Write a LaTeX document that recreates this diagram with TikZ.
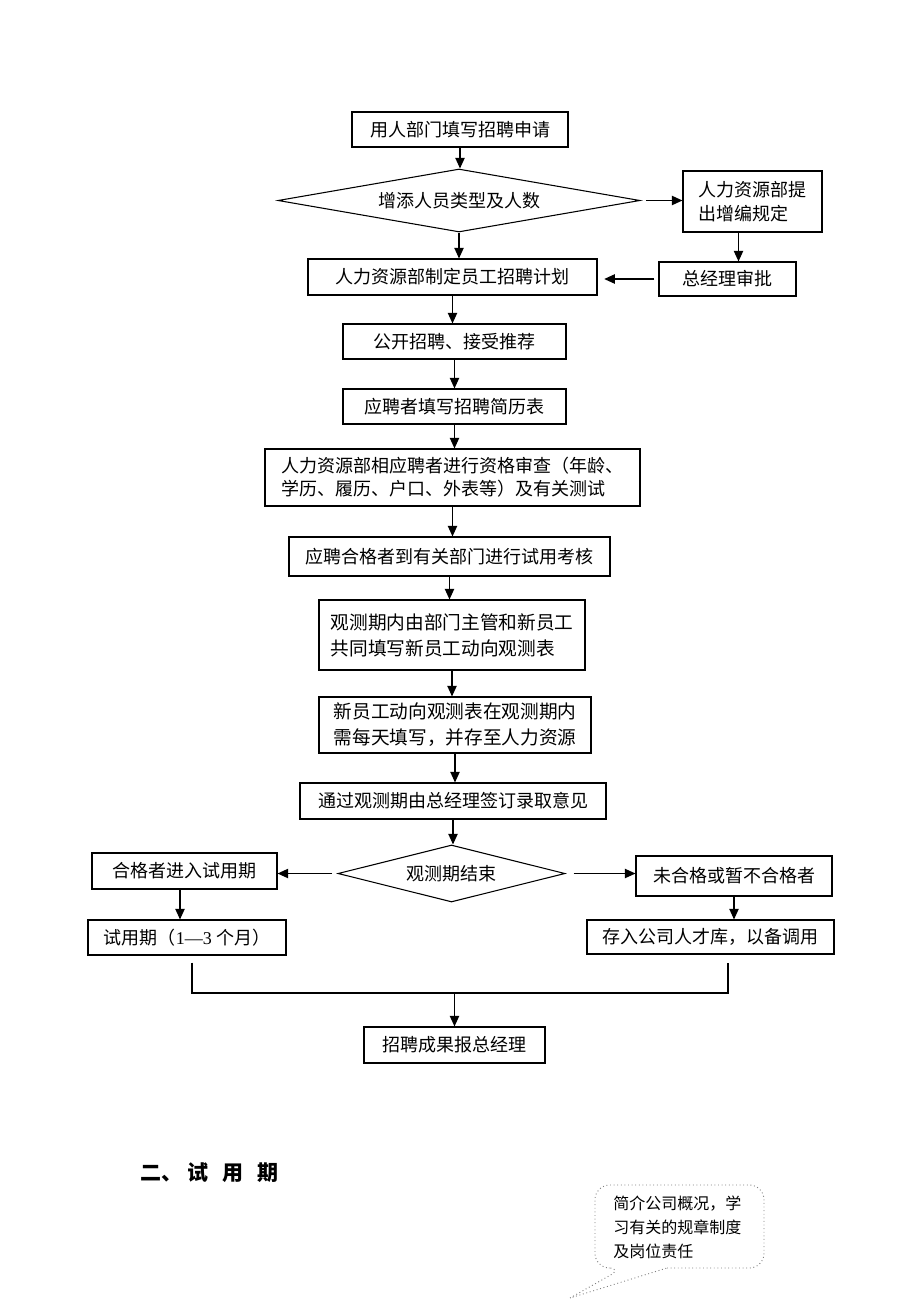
\documentclass[tikz,border=0pt]{standalone}
\usepackage{fontspec}
\setmainfont{Noto Sans CJK SC}
\newfontfamily\latserif{Liberation Serif}
\usetikzlibrary{arrows.meta,shapes.geometric,calc}
\begin{document}
\begin{tikzpicture}[x=0.75pt,y=-0.75pt,
  box/.style={draw, line width=0.8pt, inner sep=0pt, font=\fontsize{13.5}{17}\selectfont},
  dia/.style={draw, diamond, line width=0.8pt, inner sep=0pt, font=\fontsize{13.5}{17}\selectfont},
  arr/.style={-{Triangle[width=7pt,length=8pt]}, line width=1pt},
  ln/.style={line width=0.8pt}]
\useasboundingbox (0,0) rectangle (920,1302);

\node[box, minimum width=162pt, minimum height=26.25pt] (n1) at (460,129.5) {用人部门填写招聘申请};
\node[dia, minimum width=271.5pt, minimum height=47.25pt, aspect=5.7] (d1) at (459,200.5) {增添人员类型及人数};
\node[box, minimum width=104.25pt, minimum height=45.75pt, align=left, font=\fontsize{13.5}{18}\selectfont] (n3) at (752.5,201.5) {人力资源部提\\出增编规定};
\node[box, minimum width=102.75pt, minimum height=25.5pt] (n4) at (727.5,279) {总经理审批};
\node[box, minimum width=216.75pt, minimum height=27pt] (n5) at (452.5,277) {人力资源部制定员工招聘计划};
\node[box, minimum width=167.25pt, minimum height=26.25pt] (n6) at (454.5,341.5) {公开招聘、接受推荐};
\node[box, minimum width=167.25pt, minimum height=26.25pt] (n7) at (454.5,406.5) {应聘者填写招聘简历表};
\node[box, minimum width=281.25pt, minimum height=42.75pt, align=left, font=\fontsize{13.5}{17.25}\selectfont] (n8) at (452.5,477.5) {人力资源部相应聘者进行资格审查（年龄、\\学历、履历、户口、外表等）及有关测试};
\node[box, minimum width=240.75pt, minimum height=29.25pt] (n9) at (449.5,556.5) {应聘合格者到有关部门进行试用考核};
\node[box, minimum width=199.5pt, minimum height=52.5pt, align=left, font=\fontsize{14}{19.5}\selectfont] (n10) at (452,635) {观测期内由部门主管和新员工\\共同填写新员工动向观测表};
\node[box, minimum width=204pt, minimum height=42pt, align=left, font=\fontsize{14}{19.5}\selectfont] (n11) at (455,725) {新员工动向观测表在观测期内\\需每天填写，并存至人力资源};
\node[box, minimum width=229.5pt, minimum height=27pt] (n12) at (453,801) {通过观测期由总经理签订录取意见};
\node[dia, minimum width=170.25pt, minimum height=42.75pt, aspect=4] (d2) at (451.5,873.5) {观测期结束};
\node[box, minimum width=138.75pt, minimum height=27pt] (n14) at (184.5,871) {合格者进入试用期};
\node[box, minimum width=147pt, minimum height=30pt] (n15) at (734,876) {未合格或暂不合格者};
\node[box, minimum width=148.5pt, minimum height=26.25pt] (n16) at (187,937.5) {试用期（{\latserif 1—3} 个月）};
\node[box, minimum width=185.25pt, minimum height=25.5pt] (n17) at (710.5,937) {存入公司人才库，以备调用};
\node[box, minimum width=135.75pt, minimum height=27pt] (n18) at (454.5,1045) {招聘成果报总经理};

% connectors
\draw[arr] (n1.south) -- (n1.south |- d1.north);
\draw[arr, shorten <=4pt] (d1.east) -- (d1.east -| n3.west);
\draw[arr] (d1.south) -- (d1.south |- n5.north);
\coordinate (c1) at ($(n3.south)+(-14,0)$);
\draw[arr] (c1) -- (c1 |- n4.north);
\draw[arr, shorten <=3pt, shorten >=5pt] (n4.west) -- (n4.west -| n5.east);
\draw[arr] (n5.south) -- (n5.south |- n6.north);
\draw[arr] (n6.south) -- (n6.south |- n7.north);
\draw[arr] (n7.south) -- (n7.south |- n8.north);
\draw[arr] (n8.south) -- (n8.south |- n9.north);
\draw[arr] (n9.south) -- (n9.south |- n10.north);
\draw[arr] (n10.south) -- (n10.south |- n11.north);
\draw[arr] (n11.south) -- (n11.south |- n12.north);
\draw[arr] (n12.south) -- (n12.south |- d2.north);
\draw[arr, shorten <=4pt] (d2.west) -- (d2.west -| n14.east);
\draw[arr, shorten <=6pt] (d2.east) -- (d2.east -| n15.west);
\coordinate (c2) at ($(n14.south)+(-4.5,0)$);
\draw[arr] (c2) -- (c2 |- n16.north);
\draw[arr] (n15.south) -- (n15.south |- n17.north);
\coordinate (m1) at (192,993);
\coordinate (m2) at (728,993);
\draw[ln] ($(n16.south)+(5,7)$) -- (m1) -- (m2) -- ($(n17.south)+(17.5,8)$);
\draw[arr] (m1 -| n18) -- (n18.north);

% heading
\node[anchor=west, inner sep=0pt, font=\fontsize{15.75}{18}\selectfont\bfseries] (h) at (140,1173) {二、\hspace{4pt}试\hspace{10.5pt}用\hspace{10.5pt}期};

% callout
\draw[dotted, line width=0.7pt, gray, rounded corners=11pt] (667,1268) -- (764,1268) -- (764,1185) -- (595,1185) -- (595,1268) -- (623,1268) [sharp corners] -- (570,1298) -- cycle;
\node[anchor=north west, align=left, inner sep=0pt, font=\fontsize{12}{18}\selectfont] (note) at (613,1196) {简介公司概况，学\\习有关的规章制度\\及岗位责任};
\end{tikzpicture}
\end{document}
